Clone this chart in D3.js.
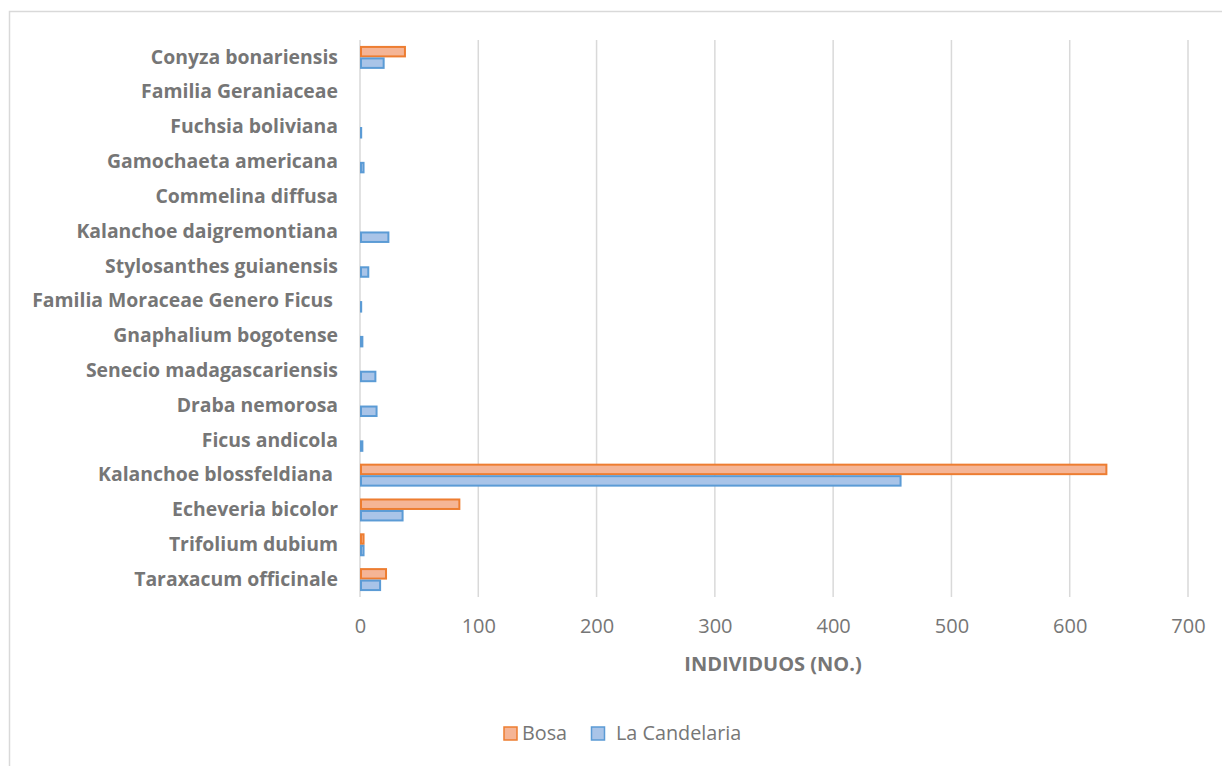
<!DOCTYPE html>
<html><head><meta charset="utf-8">
<script src="https://cdn.jsdelivr.net/npm/d3@7"></script>
<style>
html,body{margin:0;padding:0;background:#fff;}
svg text{font-family:"Open Sans",sans-serif;}
</style></head>
<body><svg id="c" width="1222" height="766"></svg>
<script>
const categories = ["Conyza bonariensis","Familia Geraniaceae","Fuchsia boliviana","Gamochaeta americana","Commelina diffusa","Kalanchoe daigremontiana","Stylosanthes guianensis","Familia Moraceae Genero Ficus ","Gnaphalium bogotense","Senecio madagascariensis","Draba nemorosa","Ficus andicola","Kalanchoe blossfeldiana ","Echeveria bicolor","Trifolium dubium","Taraxacum officinale"];
const bosa       = [38,0,0,0,0,0,0,0,0,0,0,0,631,84,3,22];
const candelaria = [20,0,1,3,0,24,7,1,2,13,14,2,457,36,3,17];
const seriesNames = ["Bosa","La Candelaria"];
const xTicks = [0,100,200,300,400,500,600,700];
const xTitle = "INDIVIDUOS (NO.)";

const svg = d3.select("#c");
const textColor = "#767676";
const colors = [{fill:"#f5b596",stroke:"#ed7d31"},{fill:"#a9c4e8",stroke:"#5b9bd5"}];

// chart border
svg.append("rect").attr("x",9.5).attr("y",11.5).attr("width",1240).attr("height",800)
  .attr("fill","none").attr("stroke","#d9d9d9").attr("stroke-width",1.5);

const x = d3.scaleLinear().domain([0,700]).range([360,1188]);
const y = d3.scaleBand().domain(categories).range([40,597]).paddingInner(0.34).paddingOuter(0.17);
const ySub = d3.scaleBand().domain(seriesNames).range([0,y.bandwidth()]);

// gridlines
svg.append("g").selectAll("line").data(xTicks).join("line")
  .attr("x1",d=>x(d)).attr("x2",d=>x(d)).attr("y1",40).attr("y2",597)
  .attr("stroke","#d9d9d9").attr("stroke-width",1.5);

// x tick labels
const xAxis = d3.axisBottom(x).tickValues(xTicks).tickSize(0).tickPadding(0);
const gx = svg.append("g").attr("transform","translate(0,618)").call(xAxis);
gx.select(".domain").remove();
gx.selectAll("text").attr("fill",textColor).attr("font-size",20).attr("font-family","Open Sans").attr("dy","0.32em").attr("y",9);

// axis title
svg.append("text").attr("x",773).attr("y",664).attr("dy","0.35em").attr("text-anchor","middle")
  .attr("font-size",20).attr("font-weight","bold").attr("fill",textColor).text(xTitle);

// y labels
const yAxis = d3.axisLeft(y).tickSize(0).tickPadding(0);
const gy = svg.append("g").attr("transform","translate(338,0)").call(yAxis);
gy.select(".domain").remove();
gy.selectAll("text").attr("fill",textColor).attr("font-size",19.4).attr("font-weight","bold")
  .attr("font-family","Open Sans").style("white-space","pre").attr("xml:space","preserve");

// bars
const rows = categories.map((c,i)=>({c, vals:[bosa[i],candelaria[i]]}));
const g = svg.append("g");
rows.forEach(r=>{
  r.vals.forEach((v,j)=>{
    if(v<=0) return;
    g.append("rect")
      .attr("x",x(0)+1).attr("y",y(r.c)+ySub(seriesNames[j])+1)
      .attr("width",Math.max(0,x(v)-x(0)-1)).attr("height",ySub.bandwidth()-2)
      .attr("fill",colors[j].fill).attr("stroke",colors[j].stroke).attr("stroke-width",2);
  });
});

// legend
const leg = svg.append("g");
const legItems = [{name:"Bosa",x:504,tx:522},{name:"La Candelaria",x:591.5,tx:616}];
legItems.forEach((it,j)=>{
  leg.append("rect").attr("x",it.x).attr("y",727).attr("width",13).attr("height",13)
    .attr("fill",colors[j].fill).attr("stroke",colors[j].stroke).attr("stroke-width",1.5);
  leg.append("text").attr("x",it.tx).attr("y",733).attr("dy","0.35em")
    .attr("font-size",19.8).attr("fill",textColor).text(seriesNames[j]);
});
</script></body></html>
